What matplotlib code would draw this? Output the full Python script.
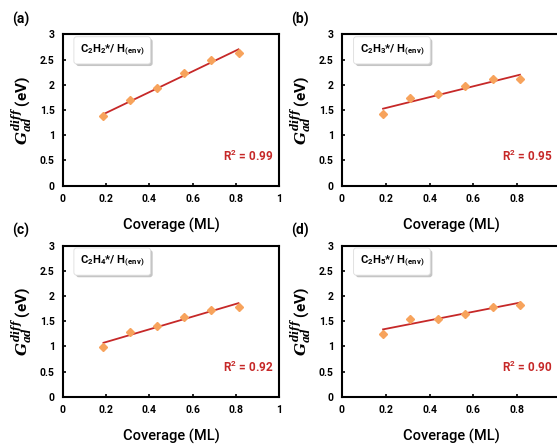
import numpy as np
import matplotlib
matplotlib.use("Agg")
import matplotlib.pyplot as plt
import matplotlib.patheffects as pe

# coverage (ML) and adsorption free energy differences (eV)
coverage = [0.1875, 0.3125, 0.4375, 0.5625, 0.6875, 0.8125]
g_c2h2 = [1.38, 1.69, 1.93, 2.24, 2.49, 2.64]
g_c2h3 = [1.43, 1.73, 1.82, 1.97, 2.12, 2.11]
g_c2h4 = [0.99, 1.29, 1.40, 1.59, 1.73, 1.79]
g_c2h5 = [1.25, 1.55, 1.55, 1.65, 1.79, 1.83]

species = [r"C$_2$H$_2$*/ H$_{(env)}$", r"C$_2$H$_3$*/ H$_{(env)}$",
           r"C$_2$H$_4$*/ H$_{(env)}$", r"C$_2$H$_5$*/ H$_{(env)}$"]
r2_labels = ["0.99", "0.95", "0.92", "0.90"]
panel_tags = ["(a)", "(b)", "(c)", "(d)"]
x_ticks = [0, 0.2, 0.4, 0.6, 0.8, 1]
y_ticks = [0, 0.5, 1, 1.5, 2, 2.5, 3]

plt.rcParams["font.family"] = ["Roboto", "DejaVu Sans"]
plt.rcParams["mathtext.default"] = "regular"
plt.rcParams["mathtext.fontset"] = "custom"
plt.rcParams["mathtext.it"] = "DejaVu Serif:italic:bold"

marker_col = "#F7A35C"
line_col = "#C62828"

fig = plt.figure(figsize=(5.57, 4.44), dpi=100)

# axes boxes in figure fractions (right column runs off the canvas)
boxes = [[0.1131, 0.5822, 0.3878, 0.3401],
         [0.6140, 0.5822, 0.3932, 0.3401],
         [0.1131, 0.1065, 0.3878, 0.3401],
         [0.6140, 0.1065, 0.3932, 0.3401]]
tag_pos = [(0.022, 0.955), (0.523, 0.955), (0.022, 0.480), (0.523, 0.480)]
r2_x = [0.972, 0.959, 0.972, 0.959]

all_g = [g_c2h2, g_c2h3, g_c2h4, g_c2h5]

for i in range(4):
    ax = fig.add_axes(boxes[i])
    x = np.array(coverage)
    y = np.array(all_g[i])
    # linear fit drawn across the data range
    p = np.polyfit(x, y, 1)
    ax.plot([x[0], x[-1]], np.polyval(p, [x[0], x[-1]]), color=line_col,
            lw=1.3, zorder=2)
    ax.plot(x, y, ls="none", marker="D", ms=4.2, color=marker_col,
            mec=marker_col, zorder=3)

    ax.set_xlim(0, 1)
    ax.set_ylim(0, 3)
    ax.set_xticks(x_ticks)
    ax.set_yticks(y_ticks)
    xlabs = ["0", "0.2", "0.4", "0.6", "0.8", "1"]
    if i % 2 == 1:
        xlabs[-1] = ""   # falls outside the canvas in the original
    ax.set_xticklabels(xlabs)
    ax.set_yticklabels(["0", "0.5", "1", "1.5", "2", "2.5", "3"])
    ax.tick_params(direction="in", length=2.5, width=1.2, labelsize=7.5,
                   pad=6)
    for lab in ax.get_xticklabels() + ax.get_yticklabels():
        lab.set_fontweight("bold")
    for s in ax.spines.values():
        s.set_linewidth(1.5)

    ax.set_xlabel("Coverage (ML)", fontsize=10.5, fontweight="medium",
                  labelpad=10)
    ax.set_ylabel(r"$\mathit{G}_{\mathit{ad}}^{\mathit{diff}}$ (eV)",
                  fontsize=11, fontweight="bold", labelpad=3)

    t = ax.text(0.228, 0.895, species[i], transform=ax.transAxes,
                ha="center", va="center", fontsize=8, fontweight="bold",
                bbox=dict(boxstyle="round,pad=0.55,rounding_size=0.25",
                          fc="white", ec="#DDDDDD", lw=0.6))
    t.get_bbox_patch().set_path_effects(
        [pe.withSimplePatchShadow(offset=(1.5, -1.5), shadow_rgbFace="gray",
                                  alpha=0.45)])

    ax.text(r2_x[i], 0.195, "R$^2$ = " + r2_labels[i], transform=ax.transAxes,
            ha="right", va="center", fontsize=8.5, fontweight="bold",
            color=line_col)

    fig.text(tag_pos[i][0], tag_pos[i][1], panel_tags[i], fontsize=10,
             fontweight="bold", ha="left", va="center")

fig.savefig("out.png", dpi=100)
